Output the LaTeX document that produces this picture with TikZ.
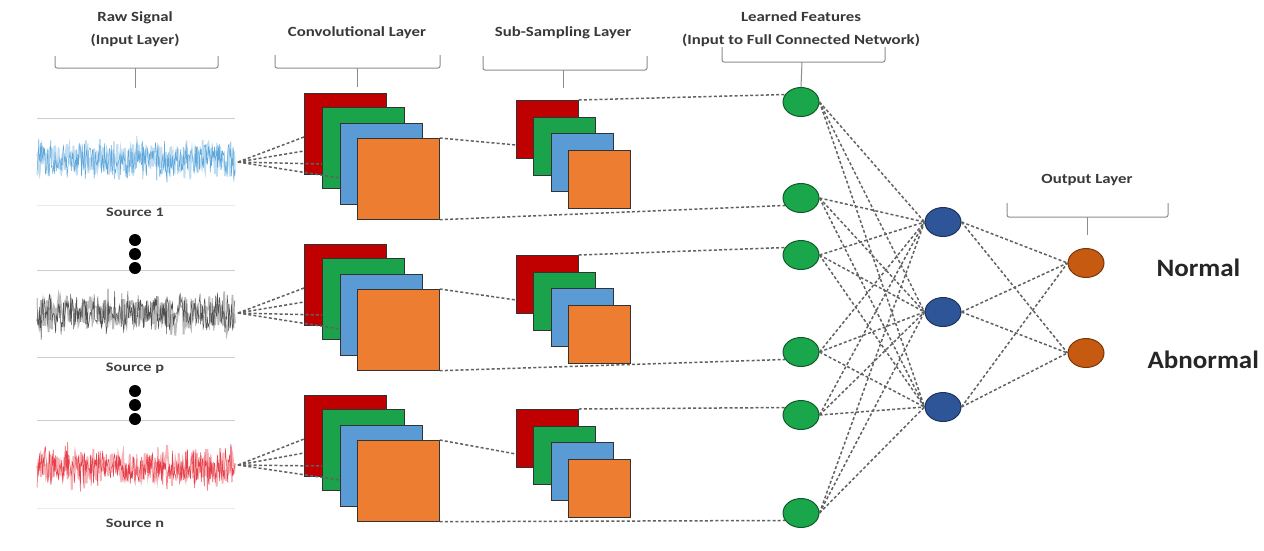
\documentclass[tikz,border=0pt]{standalone}
\usepackage{fontspec}
\setmainfont{Carlito}
\newfontfamily\lblfont[FakeStretch=1.2]{Carlito}
\newfontfamily\srcfont[FakeStretch=1.25]{Carlito}
\newfontfamily\clsfont[FakeStretch=1.08]{Carlito}
\usetikzlibrary{calc,shapes.geometric}
\definecolor{cred}{HTML}{C00000}
\definecolor{cgreen}{HTML}{1AA34A}
\definecolor{cblue}{HTML}{5B9BD5}
\definecolor{corange}{HTML}{ED7D31}
\definecolor{ngreen}{HTML}{1AA64A}
\definecolor{nblue}{HTML}{2E5597}
\definecolor{norange}{HTML}{C65A11}
\definecolor{wblue}{HTML}{5FA8DC}
\definecolor{wgray}{HTML}{505050}
\definecolor{wred}{HTML}{E8404A}
\begin{document}
\begin{tikzpicture}[x=1pt,y=-1pt,
  lbl/.style={font=\lblfont\fontsize{14}{23}\selectfont\bfseries, text=black!78, align=center},
  srclbl/.style={font=\srcfont\fontsize{13}{15}\selectfont\bfseries, text=black!75},
  cls/.style={font=\clsfont\fontsize{25}{28}\selectfont\bfseries, text=black!85},
  brace/.style={draw=black!45, line width=1pt, rounded corners=2pt},
  conv/.style={draw=black!80, line width=0.7pt, inner sep=0pt, minimum width=82pt, minimum height=81pt, anchor=north west},
  subs/.style={conv, minimum width=62pt, minimum height=58pt},
  neur/.style={ellipse, inner sep=0pt, minimum width=36pt, minimum height=29pt, line width=1pt},
  feat/.style={neur, draw=ngreen!55!black, fill=ngreen},
  hid/.style={neur, draw=nblue!60!black, fill=nblue},
  outn/.style={neur, draw=norange!60!black, fill=norange},
  link/.style={draw=black!62, dash pattern=on 3pt off 2.2pt, line width=1.5pt},
  axisline/.style={draw=black!20, line width=0.8pt},
  dot/.style={circle, fill=black, inner sep=0pt, minimum size=12pt}
]
\useasboundingbox[fill=white] (0,0) rectangle (1264,550);

% ---------- labels and braces ----------
\node[lbl] (tRaw) at (135,29) {Raw Signal\\(Input Layer)};
\node[lbl] (tConv) at (357,33) {Convolutional Layer};
\node[lbl] (tSub) at (563,33) {Sub-Sampling Layer};
\node[lbl] (tFeat) at (801,29) {Learned Features\\(Input to Full Connected Network)};
\node[lbl] (tOut) at (1087,180) {Output Layer};

\draw[brace] (55,56) |- (135,68) -| (218,56);
\draw[brace] (135,68) -- (135,88);
\draw[brace] (275,55) |- (357,68) -| (440,55);
\draw[brace] (357,68) -- (357,87);
\draw[brace] (483,56) |- (563,70) -| (647,56);
\draw[brace] (563,70) -- (563,88);
\draw[brace] (722,47) |- (802,62) -| (885,47);
\draw[brace] (1007,203) |- (1087,217) -| (1168,203);
\draw[brace] (1087,217) -- (1087,235);

% ---------- raw signals ----------
\draw[axisline] (37,118) -- (235,118);
\draw[axisline, draw=black!8] (37,205) -- (235,205);
\pgfmathsetseed{11}
\draw[wblue!40, line width=1.8pt] plot[domain=37:235, samples=240] (\x,{160+14*rand+13*rand*abs(rand)});
\draw[wblue, line width=0.5pt] plot[domain=37:235, samples=330] (\x,{160+15*rand+14*rand*abs(rand)});
\coordinate (s1) at (238,162);

\draw[axisline] (37,270) -- (235,270);
\draw[axisline] (37,357) -- (235,357);
\draw[wgray!40, line width=1.8pt] plot[domain=37:235, samples=240] (\x,{313+15*rand+13*rand*abs(rand)});
\draw[wgray, line width=0.5pt] plot[domain=37:235, samples=330] (\x,{313+16*rand+14*rand*abs(rand)});
\coordinate (sp) at (238,313);

\draw[axisline] (37,420) -- (235,420);
\draw[axisline, draw=black!8] (37,508) -- (235,508);
\draw[wred!40, line width=1.8pt] plot[domain=37:235, samples=240] (\x,{467+14*rand+13*rand*abs(rand)});
\draw[wred, line width=0.5pt] plot[domain=37:235, samples=330] (\x,{467+15*rand+15*rand*abs(rand)});
\coordinate (sn) at (238,465);

\node[srclbl] (l1) at (135,212) {Source 1};
\node[srclbl] (lp) at (135,368) {Source p};
\node[srclbl] (ln) at (135,523) {Source n};

\node[dot] (d1) at (135,240) {};
\node[dot] (d2) at (135,254) {};
\node[dot] (d3) at (135,268) {};
\node[dot] (d4) at (135,391) {};
\node[dot] (d5) at (135,405) {};
\node[dot] (d6) at (135,419) {};

% ---------- convolutional and sub-sampling stacks ----------
\foreach \k/\cy/\sy in {1/93/100, 2/244/255, 3/395/409} {
  \node[conv, fill=cred]    (c\k r) at (304,\cy) {};
  \node[conv, fill=cgreen]  (c\k g) at (322,\cy+14) {};
  \node[conv, fill=cblue]   (c\k b) at (340,\cy+30) {};
  \node[conv, fill=corange] (c\k o) at (357,\cy+45) {};
  \node[subs, fill=cred]    (u\k r) at (516,\sy) {};
  \node[subs, fill=cgreen]  (u\k g) at (533,\sy+17) {};
  \node[subs, fill=cblue]   (u\k b) at (551,\sy+33) {};
  \node[subs, fill=corange] (u\k o) at (568,\sy+50) {};
}

% ---------- neurons ----------
\node[feat] (g1) at (801,102) {};
\node[feat] (g2) at (801,198) {};
\node[feat] (g3) at (801,255) {};
\node[feat] (g4) at (801,352) {};
\node[feat] (g5) at (801,415) {};
\node[feat] (g6) at (801,513) {};
\node[hid] (h1) at (943,222) {};
\node[hid] (h2) at (943,312) {};
\node[hid] (h3) at (943,407) {};
\node[outn] (o1) at (1086,263) {};
\node[outn] (o2) at (1086,353) {};

\node[cls, anchor=west] (tN) at (1153,268) {Normal};
\node[cls, anchor=west] (tA) at (1144,360) {Abnormal};

\draw[brace] (802,62) -- (g1.north);

% ---------- signal to convolution links ----------
\foreach \s/\k in {s1/1, sp/2, sn/3} {
  \draw[link] (\s) -- ($(c\k r.north west)+(0,44)$);
  \draw[link] (\s) -- ($(c\k r.north west)+(0,58)$);
  \draw[link] (\s) -- ($(c\k g.north west)+(0,57)$);
  \draw[link] (\s) -- ($(c\k b.north west)+(0,55)$);
}

% ---------- convolution to sub-sampling / features ----------
\foreach \k/\ga/\gb in {1/g1/g2, 2/g3/g4, 3/g5/g6} {
  \draw[link] (c\k o.north east) -- ($(u\k r.north west)+(0,45)$);
  \draw[link] (c\k o.south east) -- (\gb.205);
  \draw[link] (u\k r.north east) -- (\ga.155);
}

% ---------- fully connected ----------
\foreach \g in {g1,g2,g3,g4,g5,g6} {
  \foreach \h in {h1,h2,h3} {
    \draw[link] (\g.east) -- (\h.west);
  }
}
\foreach \h in {h1,h2,h3} {
  \foreach \o in {o1,o2} {
    \draw[link] (\h.east) -- (\o.west);
  }
}
\end{tikzpicture}
\end{document}
